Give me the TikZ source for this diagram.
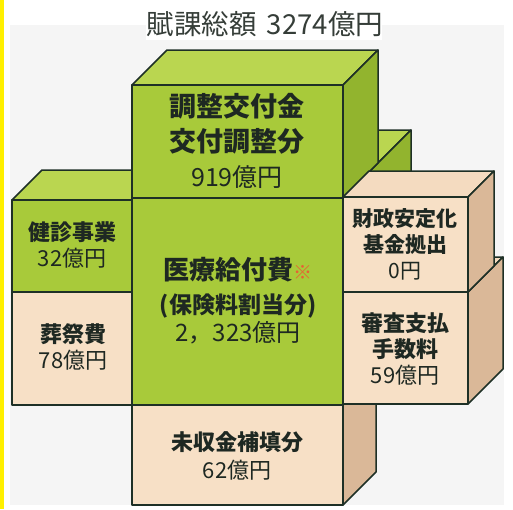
\documentclass[tikz,border=0pt]{standalone}
\usepackage{fontspec}
\setmainfont{Noto Sans CJK JP}
\usetikzlibrary{positioning}

\definecolor{cGreenFront}{RGB}{168,202,58}
\definecolor{cGreenTop}{RGB}{186,214,80}
\definecolor{cGreenSide}{RGB}{146,180,46}
\definecolor{cBeigeFront}{RGB}{247,224,198}
\definecolor{cBeigeTop}{RGB}{244,219,192}
\definecolor{cBeigeSide}{RGB}{218,184,152}
\definecolor{cEdge}{RGB}{30,48,38}
\definecolor{cInk}{RGB}{30,40,34}
\definecolor{cMark}{RGB}{232,96,52}
\definecolor{cBar}{RGB}{255,240,0}
\definecolor{cPaper}{RGB}{245,245,245}

% one block: x1, y1 (top), x2, y2 (bottom), depth, colour kind
\newcommand{\cuboid}[6]{%
  \filldraw[#6Top] (#1,#2) -- (#1+#5,#2-#5) -- (#3+#5,#2-#5) -- (#3,#2) -- cycle;
  \filldraw[#6Side] (#3,#2) -- (#3+#5,#2-#5) -- (#3+#5,#4-#5) -- (#3,#4) -- cycle;
  \filldraw[#6Front] (#1,#2) rectangle (#3,#4);
}

\begin{document}
\begin{tikzpicture}[
  x=1pt, y=-1pt,
  face/.style={draw=cEdge, line width=1.5pt, line join=round},
  greenFront/.style={face, fill=cGreenFront},
  greenTop/.style={face, fill=cGreenTop},
  greenSide/.style={face, fill=cGreenSide},
  beigeFront/.style={face, fill=cBeigeFront},
  beigeTop/.style={face, fill=cBeigeTop},
  beigeSide/.style={face, fill=cBeigeSide},
  caption/.style={text=cInk!90!white, inner sep=0pt,
    font=\fontsize{27.5}{32}\selectfont},
  blocklabel/.style={text=cInk, inner sep=0pt, align=center,
    font=\fontsize{22}{26}\selectfont}
]
\useasboundingbox (0,0) rectangle (513,509);

% Paper, title band and side bar.
\fill[white] (0,0) rectangle (513,509);
\fill[cPaper] (10,25) rectangle (504,505);
\fill[white] (146,0) rectangle (382,40);
\fill[cBar] (0,0) rectangle (4,509);

\node[caption] (total) at (265,24) {賦課総額\hspace{10pt}3274億円};

% Blocks, from back to front.
\cuboid{132}{405}{343}{505}{33}{beige}
\cuboid{12}{292}{132}{405}{30}{beige}
\cuboid{12}{200}{132}{292}{30}{green}
\cuboid{132}{198}{343}{405}{68}{green}
\cuboid{132}{85}{343}{198}{35}{green}
\cuboid{343}{292}{468}{404}{35}{beige}
\cuboid{343}{197}{468}{292}{26}{beige}

% Labels.
\node[blocklabel, font=\fontsize{27}{35}\selectfont] (adjust) at (237,141)
  {{\bfseries 調整交付金}\\{\bfseries 交付調整分}\\{\fontsize{25}{35}\selectfont 919億円}};
\node[blocklabel, font=\fontsize{26}{34}\selectfont] (medical) at (238,301)
  {{\bfseries 医療給付費}{\color{cMark}\fontsize{19}{19}\selectfont ※}\\
   {\bfseries\fontsize{23}{34}\selectfont (保険料割当分)}\\[-6pt]
   {\fontsize{24}{34}\selectfont 2，323億円}};
\node[blocklabel] (checkup) at (72,245)
  {{\bfseries 健診事業}\\32億円};
\node[blocklabel] (funeral) at (73,347)
  {{\bfseries 葬祭費}\\78億円};
\node[blocklabel, font=\fontsize{21}{26}\selectfont] (reserve) at (405,244)
  {{\bfseries 財政安定化}\\{\bfseries 基金拠出}\\0円};
\node[blocklabel] (review) at (405,349)
  {{\bfseries 審査支払}\\{\bfseries 手数料}\\59億円};
\node[blocklabel, font=\fontsize{22}{28}\selectfont] (unpaid) at (237,456)
  {{\bfseries 未収金補填分}\\62億円};

\end{tikzpicture}
\end{document}
